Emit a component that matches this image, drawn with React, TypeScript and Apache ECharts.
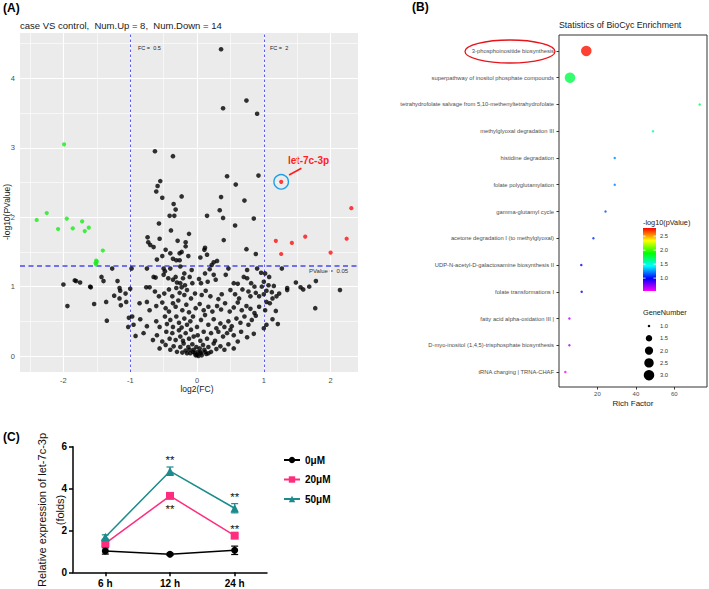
import React, { useEffect, useRef } from "react";
import * as echarts from "echarts";

const FONT = "'Liberation Sans', Arial, Helvetica, sans-serif";

// ---------------- Panel A: volcano ----------------
const volcanoTitle = "case VS control,  Num.Up = 8,  Num.Down = 14";
const downPoints: [number, number][] = [
  [-2.40, 1.96], [-2.25, 2.06], [-1.99, 3.05], [-2.08, 1.83], [-1.95, 1.98], [-1.86, 1.84],
  [-1.72, 1.94], [-1.68, 1.80], [-1.62, 1.85], [-1.41, 1.52], [-1.51, 1.375], [-1.51, 1.32],
  [-1.52, 1.34], [-1.50, 1.36],
];
const upPoints: [number, number][] = [
  [1.26, 1.47], [1.18, 1.66], [1.42, 1.63], [1.62, 1.72], [2.0, 1.49], [2.24, 1.69], [2.31, 2.13],
];
const highlightPoint: [number, number] = [1.26, 2.51];
const highlightName = "let-7c-3p";
const arrowFrom: [number, number] = [1.378, 2.608];
const arrowTo: [number, number] = [1.563, 2.705];
const nsPoints: [number, number][] = [
  [0.36, 4.42], [0.74, 3.68], [0.39, 3.57], [0.90, 3.49], [-0.63, 2.95], [-0.36, 2.88], [0.92, 2.60], [0.45, 2.59],
  [-0.55, 2.52], [0.58, 2.47], [-0.59, 2.45], [-0.61, 2.37], [-0.52, 2.28], [-0.23, 2.30], [0.36, 2.29], [0.71, 2.24],
  [-0.35, 2.19], [-0.32, 2.11], [0.34, 2.10], [-0.41, 2.02], [-0.34, 2.02], [0.15, 2.02], [0.39, 1.99], [0.85, 1.98],
  [-0.57, 1.91], [0.57, 1.88], [-0.39, 1.81], [-0.12, 1.76], [-0.74, 1.71], [-0.56, 1.69], [0.40, 1.67], [-0.29, 1.66],
  [-0.73, 1.64], [-0.17, 1.64], [-0.70, 1.60], [-0.65, 1.57], [-0.17, 1.58], [0.12, 1.56], [-0.47, 1.53], [0.11, 1.53],
  [0.74, 1.54], [-0.23, 1.50], [-0.26, 1.48], [-0.40, 1.48], [0.88, 1.47], [-0.52, 1.44], [-0.13, 1.44], [0.05, 1.42],
  [0.15, 1.46], [-0.36, 1.40], [-0.60, 1.39], [-0.31, 1.38], [-0.26, 1.38], [0.30, 1.37], [0.25, 1.35], [0.22, 1.31],
  [-1.27, 1.26], [-0.98, 1.26], [-1.43, 1.14], [-1.40, 1.08], [-1.83, 1.09], [-1.81, 1.08], [-1.75, 1.06], [-1.60, 1.00],
  [-1.59, 0.99], [-1.19, 1.08], [-2.00, 1.03], [-1.94, 0.72], [-1.54, 0.75], [-1.35, 0.51], [-1.36, 0.78], [-1.24, 0.87],
  [-1.16, 0.98], [-1.15, 0.94], [-1.16, 0.83], [-1.14, 0.73], [-1.07, 0.90], [-1.06, 0.78], [-1.00, 0.97], [-1.02, 0.55],
  [-1.03, 0.42], [-0.97, 0.57], [-0.95, 0.45], [-0.92, 0.29],
  [-0.75, 1.26], [-0.50, 1.26], [-0.48, 1.22], [-0.40, 1.26], [-0.25, 1.29], [-0.19, 1.19], [-0.08, 1.24], [0.12, 1.19],
  [0.19, 1.25], [0.47, 1.26], [0.75, 1.24], [0.90, 1.26], [0.96, 1.20], [1.02, 1.19], [1.08, 1.14], [1.27, 1.26],
  [-0.65, 1.14], [-0.62, 1.13], [-0.50, 1.17], [-0.43, 1.12], [-0.36, 1.10], [-0.32, 1.14], [-0.30, 1.06], [-0.25, 1.05],
  [-0.21, 1.12], [-0.18, 1.02], [-0.11, 1.14], [-0.07, 1.05], [0.03, 1.11], [0.06, 1.05], [0.16, 1.07], [0.25, 1.17],
  [0.28, 1.10], [0.43, 1.17], [0.55, 1.05], [0.61, 1.04], [0.70, 1.14], [0.75, 1.12], [0.81, 1.05], [0.86, 1.00],
  [0.97, 1.00], [1.00, 1.07], [1.07, 1.02], [1.15, 1.01], [1.35, 0.98], [1.48, 1.06], [1.55, 0.99], [1.59, 0.96],
  [1.68, 1.00], [1.78, 1.08], [2.14, 0.95], [1.77, 0.69], [1.35, 0.95],
  [-0.76, 0.99], [-0.71, 0.99], [-0.63, 0.93], [-0.57, 0.86], [-0.49, 0.90], [-0.42, 0.96], [-0.37, 0.86], [-0.31, 0.98],
  [-0.26, 0.91], [-0.23, 0.99], [-0.19, 0.88], [-0.15, 0.95], [-0.09, 0.83], [-0.03, 0.90], [0.07, 0.88], [0.13, 0.94],
  [0.20, 0.86], [0.32, 0.82], [0.37, 0.89], [0.50, 0.95], [0.57, 0.89], [0.63, 0.83], [0.68, 0.96], [0.77, 0.93],
  [0.80, 0.86], [0.88, 0.91], [0.93, 0.86], [1.00, 0.89], [1.04, 0.94], [1.12, 0.92], [1.19, 0.86], [1.13, 0.83],
  [1.23, 0.90],
  [-0.86, 0.76], [-0.75, 0.78], [-0.71, 0.66], [-0.61, 0.72], [-0.52, 0.77], [-0.47, 0.69], [-0.42, 0.64], [-0.36, 0.76],
  [-0.32, 0.71], [-0.28, 0.80], [-0.22, 0.66], [-0.16, 0.74], [-0.12, 0.63], [-0.02, 0.69], [0.04, 0.75], [0.10, 0.66],
  [0.17, 0.71], [0.23, 0.64], [0.30, 0.72], [0.36, 0.67], [0.42, 0.76], [0.49, 0.64], [0.55, 0.70], [0.61, 0.77],
  [0.67, 0.66], [0.74, 0.72], [0.80, 0.68], [0.86, 0.62], [0.93, 0.71], [1.02, 0.66], [1.09, 0.76], [1.18, 0.65],
  [1.04, 0.78],
  [-0.85, 0.53], [-0.75, 0.43], [-0.61, 0.50], [-0.56, 0.42], [-0.48, 0.57], [-0.45, 0.46], [-0.40, 0.52], [-0.36, 0.42],
  [-0.31, 0.57], [-0.27, 0.48], [-0.23, 0.41], [-0.19, 0.54], [-0.15, 0.45], [-0.10, 0.50], [-0.06, 0.57], [0.00, 0.42],
  [0.06, 0.52], [0.12, 0.59], [0.17, 0.45], [0.25, 0.53], [0.29, 0.40], [0.35, 0.47], [0.41, 0.42], [0.47, 0.50],
  [0.52, 0.43], [0.59, 0.54], [0.65, 0.48], [0.71, 0.57], [0.77, 0.45], [0.82, 0.52], [0.88, 0.58], [1.00, 0.40],
  [1.04, 0.45], [1.21, 0.46], [1.13, 0.53],
  [-0.80, 0.33], [-0.66, 0.23], [-0.60, 0.30], [-0.52, 0.21], [-0.46, 0.35], [-0.41, 0.25], [-0.37, 0.33], [-0.32, 0.23],
  [-0.27, 0.37], [-0.25, 0.28], [-0.21, 0.22], [-0.17, 0.33], [-0.12, 0.25], [-0.09, 0.38], [-0.05, 0.28], [0.01, 0.30],
  [0.05, 0.22], [0.10, 0.35], [0.15, 0.25], [0.21, 0.33], [0.27, 0.22], [0.32, 0.35], [0.39, 0.28], [0.45, 0.33],
  [0.50, 0.38], [0.55, 0.30], [0.61, 0.21], [0.66, 0.35], [0.75, 0.27], [0.85, 0.32],
  [-0.56, 0.11], [-0.47, 0.16], [-0.40, 0.09], [-0.35, 0.14], [-0.30, 0.06], [-0.25, 0.13], [-0.20, 0.18], [-0.17, 0.08],
  [-0.13, 0.13], [-0.10, 0.04], [-0.07, 0.17], [-0.05, 0.09], [-0.02, 0.01], [-0.01, 0.13], [0.01, 0.06], [0.02, 0.00],
  [0.04, 0.11], [0.06, 0.04], [0.09, 0.16], [0.11, 0.09], [0.14, 0.03], [0.17, 0.13], [0.21, 0.06], [0.25, 0.18],
  [0.29, 0.10], [0.35, 0.14], [0.41, 0.09], [0.47, 0.17], [0.55, 0.11], [-0.03, 0.04], [-0.06, 0.06], [0.05, 0.06],
  [0.00, 0.02], [0.07, 0.01], [-0.11, 0.09], [-0.15, 0.04], [0.12, 0.06], [0.17, 0.04], [-0.22, 0.05],
];
const xMajorA = [-2, -1, 0, 1, 2];
const xMinorA = [-2.5, -1.5, -0.5, 0.5, 1.5];
const yMajorA = [0, 1, 2, 3, 4];
const yMinorA = [0.5, 1.5, 2.5, 3.5, 4.5];
const fcCutoffs = [-1, 1];
const pCutoff = 1.30;

// ---------------- Panel B: BioCyc enrichment ----------------
const pathways = [
  "3-phosphoinositide biosynthesis",
  "superpathway of inositol phosphate compounds",
  "tetrahydrofolate salvage from 5,10-methenyltetrahydrofolate",
  "methylglyoxal degradation III",
  "histidine degradation",
  "folate polyglutamylation",
  "gamma-glutamyl cycle",
  "acetone degradation I (to methylglyoxal)",
  "UDP-N-acetyl-D-galactosamine biosynthesis II",
  "folate transformations I",
  "fatty acid alpha-oxidation III |",
  "D-myo-inositol (1,4,5)-trisphosphate biosynthesis",
  "tRNA charging | TRNA-CHAF",
];
const richFactor = [14.2, 5.7, 73.2, 48.9, 29.0, 29.0, 24.2, 17.9, 11.6, 11.8, 5.4, 5.4, 3.3];
const negLogP = [2.76, 1.76, 1.74, 1.59, 1.23, 1.23, 1.14, 1.07, 0.99, 0.99, 0.69, 0.69, 0.55];
const geneNumber = [3, 3, 1, 1, 1, 1, 1, 1, 1, 1, 1, 1, 1];
const richTicks = [20, 40, 60];
const pColorMin = 0.54;
const pColorMax = 2.79;
const colorbarTicks = [2.5, 2.0, 1.5, 1.0];
const geneLegendValues = [1.0, 1.5, 2.0, 2.5, 3.0];

// ---------------- Panel C: qPCR time course ----------------
const timePoints = ["6 h", "12 h", "24 h"];
const doseNames = ["0μM", "20μM", "50μM"];
const dose0 = [1.02, 0.86, 1.05];
const dose0Err = [0.15, 0.05, 0.2];
const dose20 = [1.38, 3.65, 1.75];
const dose20Err = [0.15, 0.12, 0.08];
const dose50 = [1.69, 4.83, 3.06];
const dose50Err = [0.1, 0.2, 0.22];
const starMarks: [number, number][] = [[1, 5.35], [1, 3.03], [2, 3.59], [2, 2.07]];

const doseColors = ["#000000", "#ff2d7e", "#1b8b8b"];
const doseSymbols = ["circle", "rect", "triangle"];
const doseSizes = [7, 8, 8.5];

const geneSize = (n: number) => 2.5 + 8 * Math.sqrt(Math.max(0, n - 1) / 2);
const rainbowLowToHigh = ["#ff00ff", "#0000ff", "#00ffff", "#00ff00", "#ffff00", "#ff0000"];

export default function App() {
  const ref = useRef<HTMLDivElement>(null);

  useEffect(() => {
    if (!ref.current) return;
    const chart = echarts.init(ref.current, undefined, { renderer: "svg" });

    const gridLineData: any[] = [
      ...xMinorA.map((v) => ({ xAxis: v, lineStyle: { color: "#ffffff", width: 0.6, type: "solid" } })),
      ...yMinorA.map((v) => ({ yAxis: v, lineStyle: { color: "#ffffff", width: 0.6, type: "solid" } })),
      ...xMajorA.map((v) => ({ xAxis: v, lineStyle: { color: "#ffffff", width: 1.1, type: "solid" } })),
      ...yMajorA.map((v) => ({ yAxis: v, lineStyle: { color: "#ffffff", width: 1.1, type: "solid" } })),
    ];
    const cutoffData: any[] = [
      ...fcCutoffs.map((v) => ({ xAxis: v, lineStyle: { color: "#4a4af0", width: 0.9, type: [2.5, 2.5] } })),
      { yAxis: pCutoff, lineStyle: { color: "#4a4af0", width: 1.6, type: [5, 3.5] } },
    ];

    const errSeries = (vals: number[], errs: number[], color: string, name: string) => ({
      type: "custom",
      name: name + " err",
      xAxisIndex: 2,
      yAxisIndex: 2,
      z: 4,
      data: vals.map((v, i) => [i, v - errs[i], v + errs[i]]),
      renderItem: (_p: any, api: any) => {
        const lo = api.coord([api.value(0), api.value(1)]);
        const hi = api.coord([api.value(0), api.value(2)]);
        const w = 3.5;
        const st = { stroke: color, lineWidth: 1.2 };
        return {
          type: "group",
          children: [
            { type: "line", shape: { x1: lo[0], y1: lo[1], x2: hi[0], y2: hi[1] }, style: st },
            { type: "line", shape: { x1: lo[0] - w, y1: lo[1], x2: lo[0] + w, y2: lo[1] }, style: st },
            { type: "line", shape: { x1: hi[0] - w, y1: hi[1], x2: hi[0] + w, y2: hi[1] }, style: st },
          ],
        };
      },
    });

    const cbX = 643, cbY = 228, cbW = 13, cbH = 63;
    const cbPos = (v: number) => cbY + ((pColorMax - v) / (pColorMax - pColorMin)) * cbH;

    const graphics: any[] = [
      { type: "text", x: 3, y: 8, style: { text: "(A)", font: `bold 12px ${FONT}`, fill: "#000", textVerticalAlign: "middle" } },
      { type: "text", x: 412, y: 7, style: { text: "(B)", font: `bold 12px ${FONT}`, fill: "#000", textVerticalAlign: "middle" } },
      { type: "text", x: 3, y: 437, style: { text: "(C)", font: `bold 12px ${FONT}`, fill: "#000", textVerticalAlign: "middle" } },
      { type: "text", x: 20, y: 25, style: { text: volcanoTitle, font: `9.5px ${FONT}`, fill: "#1a1a1a", textVerticalAlign: "middle" } },
      { type: "text", x: 197, y: 389, style: { text: "log2(FC)", font: `8.5px ${FONT}`, fill: "#1a1a1a", textAlign: "center", textVerticalAlign: "middle" } },
      { type: "text", x: 6.5, y: 212, rotation: Math.PI / 2, style: { text: "-log10(PValue)", font: `8.5px ${FONT}`, fill: "#1a1a1a", textAlign: "center", textVerticalAlign: "middle" } },
      { type: "text", x: 138, y: 48, style: { text: "FC =  0.5", font: `5.5px ${FONT}`, fill: "#222", textVerticalAlign: "middle" } },
      { type: "text", x: 270, y: 48, style: { text: "FC =  2", font: `5.5px ${FONT}`, fill: "#222", textVerticalAlign: "middle" } },
      { type: "text", x: 309, y: 271, style: { text: "PValue =  0.05", font: `6px ${FONT}`, fill: "#333", textVerticalAlign: "middle" } },
      { type: "text", x: 288, y: 160, style: { text: highlightName, font: `bold 10px ${FONT}`, fill: "#ff2020", textVerticalAlign: "middle" } },
      // Panel B
      { type: "text", x: 559, y: 25, style: { text: "Statistics of BioCyc Enrichment", font: `8.8px ${FONT}`, fill: "#1a1a1a", textVerticalAlign: "middle" } },
      { type: "rect", shape: { x: 559, y: 35, width: 148, height: 352 }, style: { fill: "none", stroke: "#333", lineWidth: 1 }, z: 10 },
      { type: "ellipse", shape: { cx: 510, cy: 51.5, rx: 45, ry: 11.5 }, style: { fill: "none", stroke: "#e8141c", lineWidth: 1.3 }, z: 10 },
      { type: "text", x: 633, y: 403, style: { text: "Rich Factor", font: `8px ${FONT}`, fill: "#1a1a1a", textAlign: "center", textVerticalAlign: "middle" } },
      { type: "text", x: 643, y: 222, style: { text: "-log10(pValue)", font: `7.3px ${FONT}`, fill: "#1a1a1a", textVerticalAlign: "middle" } },
      {
        type: "rect",
        shape: { x: cbX, y: cbY, width: cbW, height: cbH },
        style: {
          fill: new echarts.graphic.LinearGradient(0, 0, 0, 1, rainbowLowToHigh.slice().reverse().map((c, i, a) => ({ offset: i / (a.length - 1), color: c }))),
        },
        z: 11,
      },
      ...colorbarTicks.flatMap((v) => [
        { type: "line", shape: { x1: cbX, y1: cbPos(v), x2: cbX + 2.6, y2: cbPos(v) }, style: { stroke: "#fff", lineWidth: 0.8 }, z: 12 },
        { type: "line", shape: { x1: cbX + cbW - 2.6, y1: cbPos(v), x2: cbX + cbW, y2: cbPos(v) }, style: { stroke: "#fff", lineWidth: 0.8 }, z: 12 },
        { type: "text", x: 660, y: cbPos(v), style: { text: v.toFixed(1), font: `5.8px ${FONT}`, fill: "#333", textVerticalAlign: "middle" }, z: 12 },
      ]),
      { type: "text", x: 643, y: 312, style: { text: "GeneNumber", font: `7.3px ${FONT}`, fill: "#1a1a1a", textVerticalAlign: "middle" } },
      ...geneLegendValues.flatMap((v, i) => [
        { type: "circle", shape: { cx: 649, cy: 326 + 12.3 * i, r: geneSize(v) / 2 }, style: { fill: "#000" }, z: 12 },
        { type: "text", x: 660, y: 326 + 12.3 * i, style: { text: v.toFixed(1), font: `5.8px ${FONT}`, fill: "#333", textVerticalAlign: "middle" }, z: 12 },
      ]),
      // Panel C
      { type: "text", x: 42, y: 510, rotation: Math.PI / 2, style: { text: "Relative expression of let-7c-3p", font: `11px ${FONT}`, fill: "#111", textAlign: "center", textVerticalAlign: "middle" } },
      { type: "text", x: 59.5, y: 510, rotation: Math.PI / 2, style: { text: "(folds)", font: `11px ${FONT}`, fill: "#111", textAlign: "center", textVerticalAlign: "middle" } },
    ];

    const option: any = {
      animation: false,
      backgroundColor: "#ffffff",
      textStyle: { fontFamily: FONT },
      grid: [
        { left: 20, top: 33, width: 338, height: 339, show: true, backgroundColor: "#ebebeb", borderWidth: 0 },
        { left: 559, top: 37.6, width: 148, height: 347.8 },
        { left: 73, top: 446.7, width: 194, height: 125.6 },
      ],
      xAxis: [
        {
          type: "value", gridIndex: 0, min: -2.65, max: 2.41,
          axisLine: { show: false }, splitLine: { show: false },
          axisTick: { show: true, length: 3, lineStyle: { color: "#333" }, customValues: xMajorA },
          axisLabel: { customValues: xMajorA, fontSize: 7.5, color: "#4d4d4d", margin: 4 },
        },
        {
          type: "value", gridIndex: 1, min: 0, max: 77, offset: 1.6,
          axisLine: { show: false }, splitLine: { show: false },
          axisTick: { show: true, length: 2.5, lineStyle: { color: "#333" }, customValues: richTicks },
          axisLabel: { customValues: richTicks, fontSize: 6, color: "#4d4d4d", margin: 4 },
        },
        {
          type: "category", gridIndex: 2, data: timePoints, boundaryGap: true,
          axisLine: { show: true, lineStyle: { color: "#000", width: 1.5 } },
          axisTick: { show: true, alignWithLabel: true, length: 4, lineStyle: { color: "#000", width: 1.5 } },
          axisLabel: { fontSize: 10, fontWeight: "bold", color: "#000", margin: 6 },
        },
      ],
      yAxis: [
        {
          type: "value", gridIndex: 0, min: -0.23, max: 4.654,
          axisLine: { show: false }, splitLine: { show: false },
          axisTick: { show: true, length: 3, lineStyle: { color: "#333" }, customValues: yMajorA },
          axisLabel: { customValues: yMajorA, fontSize: 7.5, color: "#4d4d4d", margin: 5 },
        },
        {
          type: "category", gridIndex: 1, data: pathways, inverse: true, boundaryGap: true,
          axisLine: { show: false }, splitLine: { show: false },
          axisTick: { show: true, alignWithLabel: true, length: 2.5, lineStyle: { color: "#333" } },
          axisLabel: { interval: 0, fontSize: 5.8, color: "#4d4d4d", margin: 5 },
        },
        {
          type: "value", gridIndex: 2, min: 0, max: 6, interval: 2,
          axisLine: { show: true, lineStyle: { color: "#000", width: 1.5 } },
          splitLine: { show: false },
          axisTick: { show: true, length: 4, lineStyle: { color: "#000", width: 1.5 } },
          axisLabel: { fontSize: 10, fontWeight: "bold", color: "#000", margin: 6 },
        },
      ],
      visualMap: [
        {
          type: "continuous", show: false, seriesIndex: 6, dimension: 2,
          min: pColorMin, max: pColorMax, inRange: { color: rainbowLowToHigh },
        },
      ],
      legend: {
        data: doseNames, orient: "vertical", left: 278, top: 450,
        itemWidth: 16, itemHeight: 8, itemGap: 9.5,
        textStyle: { fontSize: 10, fontWeight: "bold", color: "#000" },
      },
      series: [
        {
          type: "scatter", name: "grid", xAxisIndex: 0, yAxisIndex: 0, data: [], z: 1, silent: true,
          markLine: { z: 1, silent: true, symbol: ["none", "none"], label: { show: false }, animation: false, data: gridLineData },
        },
        {
          type: "scatter", name: "cutoffs", xAxisIndex: 0, yAxisIndex: 0, data: [], z: 2, silent: true,
          markLine: { z: 2, silent: true, symbol: ["none", "none"], label: { show: false }, animation: false, data: cutoffData },
        },
        { type: "scatter", name: "NS", xAxisIndex: 0, yAxisIndex: 0, data: nsPoints, symbolSize: 4.6, itemStyle: { color: "#000" }, z: 3 },
        { type: "scatter", name: "Down", xAxisIndex: 0, yAxisIndex: 0, data: downPoints, symbolSize: 4.2, itemStyle: { color: "#18ee18" }, z: 3 },
        { type: "scatter", name: "Up", xAxisIndex: 0, yAxisIndex: 0, data: upPoints, symbolSize: 4.2, itemStyle: { color: "#ff1010" }, z: 3 },
        {
          type: "scatter", name: highlightName, xAxisIndex: 0, yAxisIndex: 0, data: [highlightPoint], z: 4,
          symbolSize: 4.2, itemStyle: { color: "#ff1010" },
          markPoint: {
            symbol: "circle", symbolSize: 14.5, silent: true, label: { show: false },
            itemStyle: { color: "rgba(0,0,0,0)", borderColor: "#1ea0e8", borderWidth: 1.4 },
            data: [{ coord: highlightPoint }],
          },
          markLine: {
            silent: true, symbol: ["none", "arrow"], symbolSize: [0, 6], label: { show: false },
            lineStyle: { color: "#ff1a1a", width: 1.5, type: "solid" },
            data: [[{ coord: arrowFrom }, { coord: arrowTo }]],
          },
        },
        {
          type: "scatter", name: "enrichment", xAxisIndex: 1, yAxisIndex: 1, z: 5,
          data: pathways.map((p, i) => [richFactor[i], p, negLogP[i], geneNumber[i]]),
          symbolSize: (val: any) => geneSize(val[3]),
        },
        ...[dose0, dose20, dose50].map((vals, k) => ({
          type: "line", name: doseNames[k], xAxisIndex: 2, yAxisIndex: 2, data: vals, z: 5,
          symbol: doseSymbols[k], symbolSize: doseSizes[k], showSymbol: true,
          itemStyle: { color: doseColors[k] }, lineStyle: { color: doseColors[k], width: 1.5 },
        })),
        errSeries(dose0, dose0Err, doseColors[0], doseNames[0]),
        errSeries(dose20, dose20Err, doseColors[1], doseNames[1]),
        errSeries(dose50, dose50Err, doseColors[2], doseNames[2]),
        {
          type: "custom", name: "stars", xAxisIndex: 2, yAxisIndex: 2, data: starMarks, z: 6,
          renderItem: (_p: any, api: any) => {
            const pt = api.coord([api.value(0), api.value(1)]);
            return { type: "text", x: pt[0], y: pt[1], style: { text: "**", font: `11.5px ${FONT}`, fill: "#111", textAlign: "center", textVerticalAlign: "middle" } };
          },
        },
      ],
      graphic: graphics,
    };

    chart.setOption(option);
    return () => chart.dispose();
  }, []);

  return <div ref={ref} style={{ position: "fixed", left: 0, top: 0, width: 709, height: 589, background: "#fff" }} />;
}
